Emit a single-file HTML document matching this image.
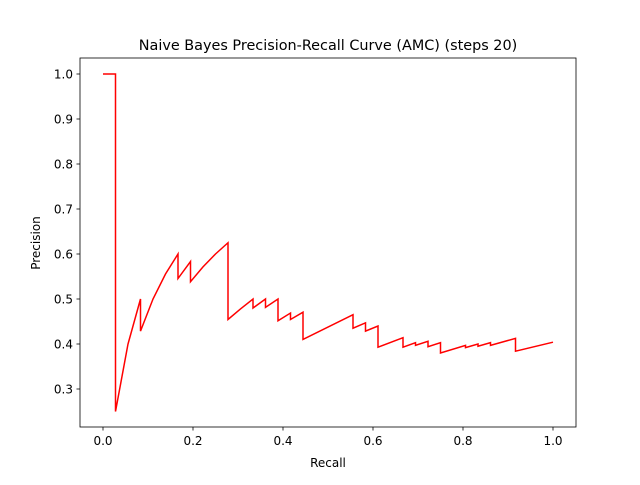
<!DOCTYPE html>
<html><head><meta charset="utf-8"><style>
body{margin:0;background:#fff;font-family:"Liberation Sans","DejaVu Sans",sans-serif;}
svg text{font-family:"DejaVu Sans","Liberation Sans",sans-serif;fill:#000;}
</style></head><body>
<svg id="chart" width="640" height="480">
<rect width="640" height="480" fill="#fff"/>
<text x="328" y="50" font-size="14.4" text-anchor="middle">Naive Bayes Precision-Recall Curve (AMC) (steps 20)</text>
<g id="axes"></g>
<text x="328" y="467" font-size="12" text-anchor="middle">Recall</text>
<text transform="translate(40,243) rotate(-90)" font-size="12" text-anchor="middle">Precision</text>
</svg>
<script>
const recall=[0,1,1,2,3,3,4,5,6,6,7,7,8,9,10,10,11,12,12,13,13,14,14,15,15,16,16,20,20,21,21,22,22,24,24,25,25,26,26,27,27,29,29,30,30,31,31,33,33,36].map(v=>v/36);
const precision=[1,1,0.25,0.4,0.5,0.4286,0.5,0.5556,0.6,0.5455,0.5833,0.5385,0.5714,0.6,0.625,0.4545,0.478,0.5,0.48,0.5,0.4815,0.5,0.4516,0.4688,0.4545,0.4706,0.4103,0.4651,0.435,0.447,0.4286,0.44,0.393,0.414,0.393,0.403,0.397,0.406,0.394,0.403,0.380,0.397,0.392,0.4,0.395,0.403,0.397,0.4125,0.384,0.404];
const xTicks=[0,0.2,0.4,0.6,0.8,1.0];
const yTicks=[0.3,0.4,0.5,0.6,0.7,0.8,0.9,1.0];
const NS="http://www.w3.org/2000/svg";
const X=v=>103+v*450, Y=v=>74+(1-v)*450;
const g=document.getElementById('axes');
function mk(t,a){const e=document.createElementNS(NS,t);for(const k in a)e.setAttribute(k,a[k]);g.appendChild(e);return e;}
const frame=mk('rect',{x:80,y:58,width:496,height:369,fill:'none',stroke:'#000','stroke-width':0.8});


xTicks.forEach(t=>{const x=X(t);
 const l=mk('line',{x1:x,x2:x,y1:427,y2:430.5,stroke:'#000','stroke-width':0.8});
 
 
 const s=mk('text',{x:x,y:445,'font-size':12,'text-anchor':'middle'});s.textContent=t.toFixed(1);
 
 });
yTicks.forEach(t=>{const y=Y(t);
 const l=mk('line',{x1:76.5,x2:80,y1:y,y2:y,stroke:'#000','stroke-width':0.8});
 
 
 const s=mk('text',{x:73,y:y+4.5,'font-size':12,'text-anchor':'end'});s.textContent=t.toFixed(1);
 
 });
const pts=recall.map((r,i)=>X(r).toFixed(2)+','+Y(precision[i]).toFixed(2)).join(' ');
const line=mk('polyline',{points:pts,fill:'none',stroke:'#ff0000','stroke-width':1.5,'stroke-linejoin':'miter'});


</script>
</body></html>
